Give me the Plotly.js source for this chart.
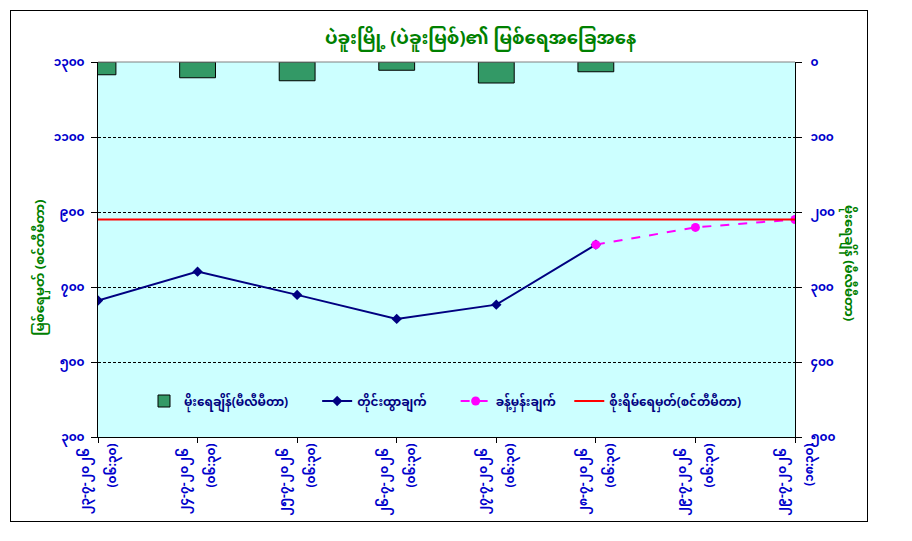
<!DOCTYPE html>
<html>
<head>
<meta charset="utf-8">
<script src="https://cdn.plot.ly/plotly-3.0.1.min.js"></script>
<style>
  body { margin: 0; background: #ffffff; }
  #wrap { position: relative; width: 912px; height: 541px; }
  #chart { width: 912px; height: 541px; }
  #frame {
    position: absolute; left: 10px; top: 10px; width: 856px; height: 510px;
    border: 1px solid #000000; pointer-events: none;
  }
</style>
</head>
<body>
<div id="wrap">
  <div id="chart"></div>
  <div id="frame"></div>
</div>
<script>
// categories (date + time of reading)
const dates = ["၂၃-၇-၂၀၂၆", "၂၄-၇-၂၀၂၆", "၂၅-၇-၂၀၂၆", "၂၆-၇-၂၀၂၆",
               "၂၇-၇-၂၀၂၆", "၂၈-၇-၂၀၂၆", "၂၉-၇-၂၀၂၆", "၂၉-၇-၂၀၂၆"]
const times = ["(၀၆:၃၀)", "(၀၆:၃၀)", "(၀၆:၃၀)", "(၀၆:၃၀)",
               "(၀၆:၃၀)", "(၀၆:၃၀)", "(၀၆:၃၀)", "(၁၈:၃၀)"]

// series
const rainfall = [17, 21, 25, 11, 28, 13, null, null]          // mm, right axis
const observed = [664, 741, 679, 615, 653, 813, null, null]    // cm
const forecast = [null, null, null, null, null, 813, 859, 880] // cm
const dangerLevel = [880, 880, 880, 880, 880, 880, 880, 880]   // cm

// axis tick labels
const levelTicks = [300, 500, 700, 900, 1100, 1300]
const levelTickText = ["၃၀၀", "၅၀၀", "၇၀၀", "၉၀၀", "၁၁၀၀", "၁၃၀၀"]
const rainTicks = [0, 100, 200, 300, 400, 500]
const rainTickText = ["၀", "၁၀၀", "၂၀၀", "၃၀၀", "၄၀၀", "၅၀၀"]

const categories = dates.map((d, i) => d + " " + times[i])
const catIndex = categories.map((c, i) => i)

const MM = "Noto Sans Myanmar, Padauk, Myanmar Text, Noto Sans, sans-serif"
const BLUE = "#0000cc"
const GREEN = "#008000"
const PAD = "\u2002\u2002\u2002\u2002"

const data = [
    {
        type: "bar",
        name: "မိုးရေချိန်(မီလီမီတာ)" + PAD,
        x: categories,
        y: rainfall,
        yaxis: "y2",
        width: 0.36,
        marker: { color: "#339966", line: { color: "#000000", width: 1 } }
    },
    {
        type: "scatter",
        mode: "lines+markers",
        name: "တိုင်းထွာချက်" + PAD,
        x: categories,
        y: observed,
        line: { color: "#000080", width: 2 },
        marker: { symbol: "diamond", size: 8, color: "#000080" }
    },
    {
        type: "scatter",
        mode: "lines+markers",
        name: "ခန့်မှန်းချက်" + "\u2002\u2009",
        x: categories,
        y: forecast,
        line: { color: "#ff00ff", width: 2, dash: "dash" },
        marker: { symbol: "circle", size: 9, color: "#ff00ff" }
    },
    {
        // drawn against the index axis that carries the time labels
        type: "scatter",
        mode: "lines",
        name: "စိုးရိမ်ရေမှတ်(စင်တီမီတာ)",
        x: catIndex,
        y: dangerLevel,
        xaxis: "x2",
        line: { color: "#ff0000", width: 2 }
    }
]

const tickFont = { family: MM, size: 12, color: BLUE, weight: "bold" }

const layout = {
    width: 912,
    height: 541,
    margin: { l: 98, r: 117, t: 62, b: 104, pad: 0 },
    paper_bgcolor: "#ffffff",
    plot_bgcolor: "#ccffff",
    font: { family: MM, size: 12, color: BLUE },
    showlegend: true,
    title: {
        text: "<b>ပဲခူးမြို့ (ပဲခူးမြစ်)၏ မြစ်ရေအခြေအနေ</b>",
        font: { family: MM, size: 18, color: GREEN },
        x: 0.527,
        xanchor: "center",
        y: 0.93,
        yanchor: "middle"
    },
    legend: {
        orientation: "h",
        x: 0.066,
        xanchor: "left",
        y: 0.096,
        yanchor: "middle",
        bgcolor: "rgba(0,0,0,0)",
        font: { family: MM, size: 12, color: "#000080", weight: "bold" },
        traceorder: "normal"
    },
    xaxis: {
        type: "category",
        range: [0, 7],
        tickvals: categories,
        ticktext: dates,
        tickangle: -90,
        ticklabelshift: -13,
        ticks: "outside",
        ticklen: 5,
        tickcolor: "#000000",
        showline: true,
        linecolor: "#000000",
        linewidth: 1,
        showgrid: false,
        zeroline: false,
        tickfont: tickFont
    },
    xaxis2: {
        overlaying: "x",
        anchor: "y",
        side: "bottom",
        range: [0, 7],
        tickvals: catIndex,
        ticktext: times,
        tickangle: -90,
        ticklabelshift: 14,
        ticklabelstandoff: 3,
        ticks: "",
        showline: false,
        showgrid: false,
        zeroline: false,
        tickfont: tickFont
    },
    yaxis: {
        range: [300, 1300],
        tickvals: levelTicks,
        ticktext: levelTickText,
        ticks: "outside",
        ticklen: 6,
        tickcolor: "#000000",
        showline: true,
        linecolor: "#000000",
        linewidth: 1,
        showgrid: true,
        gridcolor: "#000000",
        gridwidth: 1,
        griddash: "3px,2px",
        zeroline: false,
        ticklabelstandoff: 4,
        tickfont: tickFont
    },
    yaxis2: {
        overlaying: "y",
        side: "right",
        range: [500, 0],
        tickvals: rainTicks,
        ticktext: rainTickText,
        ticks: "outside",
        ticklen: 6,
        tickcolor: "#000000",
        showline: true,
        linecolor: "#000000",
        linewidth: 1,
        showgrid: false,
        zeroline: false,
        ticklabelstandoff: 6,
        tickfont: tickFont
    },
    shapes: [
        { type: "line", xref: "paper", yref: "paper", x0: 0, x1: 1, y0: 1, y1: 1,
          line: { color: "#808080", width: 1 }, layer: "above" }
    ],
    annotations: [
        {
            text: "<b>မြစ်ရေမှတ် (စင်တီမီတာ)</b>",
            xref: "paper", yref: "paper",
            x: -0.081, y: 0.45,
            xanchor: "center", yanchor: "middle",
            textangle: -90, showarrow: false,
            font: { family: MM, size: 13, color: GREEN }
        },
        {
            text: "<b>မိုးရေချိန် (မီလီမီတာ)</b>",
            xref: "paper", yref: "paper",
            x: 1.076, y: 0.464,
            xanchor: "center", yanchor: "middle",
            textangle: 90, showarrow: false,
            font: { family: MM, size: 13, color: GREEN }
        }
    ]
}

const config = { displayModeBar: false, staticPlot: true }

Plotly.newPlot("chart", data, layout, config)
</script>
</body>
</html>
